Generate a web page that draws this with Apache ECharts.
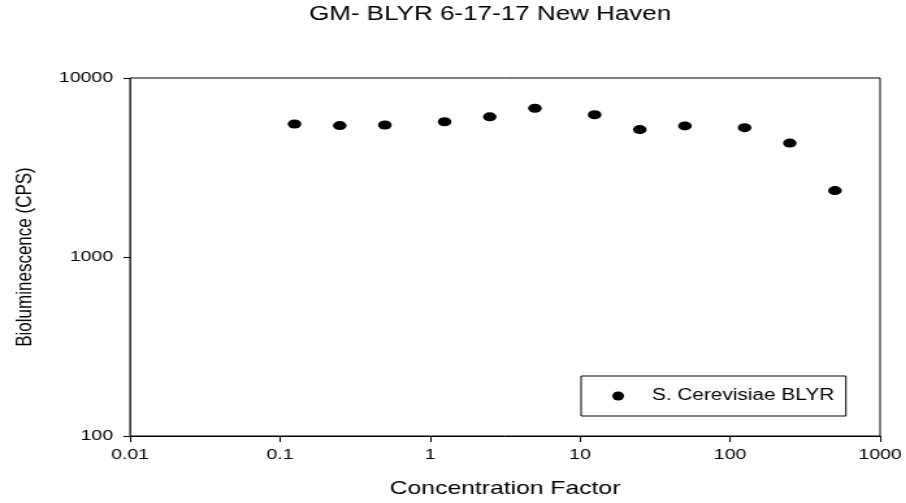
<!DOCTYPE html>
<html>
<head>
<meta charset="utf-8">
<script src="https://cdn.jsdelivr.net/npm/echarts@6/dist/echarts.min.js"></script>
<style>
html,body{margin:0;padding:0;background:#fff;overflow:hidden;}
#c{width:697px;height:503px;transform:scaleX(1.3);transform-origin:0 0;}
</style>
</head>
<body>
<div id="c"></div>
<script>
// Data
const titleText = 'GM- BLYR 6-17-17 New Haven';
const seriesName = 'S. Cerevisiae BLYR';
const xAxisName = 'Concentration Factor';
const yAxisName = 'Bioluminescence (CPS)';
const concentration = [0.125, 0.25, 0.5, 1.25, 2.5, 5, 12.5, 25, 50, 125, 250, 500];
const biolum = [5530, 5420, 5460, 5700, 6070, 6780, 6230, 5150, 5400, 5280, 4330, 2350];
const xTicks = [0.01, 0.1, 1, 10, 100, 1000];
const yTicks = [100, 1000, 10000];

const points = concentration.map((x, i) => [x, biolum[i]]);
const fmt = v => String(Number(Number(v).toPrecision(6)));
const font = '"Liberation Sans", Arial, sans-serif';

const chart = echarts.init(document.getElementById('c'), null, {renderer: 'canvas'});
chart.setOption({
  animation: false,
  backgroundColor: '#fff',
  title: {
    text: titleText,
    left: 372,
    textAlign: 'center',
    top: -1,
    textStyle: {fontFamily: font, fontSize: 20, fontWeight: 'normal', color: '#000'}
  },
  legend: {
    data: [{name: seriesName, icon: 'circle'}],
    left: 447,
    top: 376,
    orient: 'horizontal',
    itemWidth: 10,
    itemHeight: 9,
    padding: [12, 9, 12, 24],
    borderColor: '#000',
    borderWidth: 1,
    borderRadius: 0,
    backgroundColor: '#fff',
    itemStyle: {color: '#000', opacity: 1},
    textStyle: {fontFamily: font, fontSize: 16, color: '#000', padding: [0, 0, 0, 16]}
  },
  grid: {
    left: 100, right: 20, top: 78, bottom: 62,
    show: true, borderColor: '#000', borderWidth: 1, backgroundColor: 'transparent'
  },
  xAxis: {
    type: 'log', logBase: 10, min: xTicks[0], max: xTicks[xTicks.length - 1],
    name: xAxisName, nameLocation: 'middle', nameGap: 43,
    nameTextStyle: {fontFamily: font, fontSize: 19, color: '#000'},
    axisLine: {show: true, lineStyle: {color: '#000', width: 1}},
    axisTick: {show: true, inside: false, length: 6, lineStyle: {color: '#000'}},
    minorTick: {show: false},
    splitLine: {show: false},
    axisLabel: {margin: 11, fontFamily: font, fontSize: 15, color: '#000', formatter: fmt}
  },
  yAxis: {
    type: 'log', logBase: 10, min: yTicks[0], max: yTicks[yTicks.length - 1],
    name: yAxisName, nameLocation: 'middle', nameGap: 72,
    nameTextStyle: {fontFamily: font, fontSize: 17, color: '#000'},
    axisLine: {show: true, lineStyle: {color: '#333', width: 1}},
    axisTick: {show: true, inside: false, length: 5, lineStyle: {color: '#000'}},
    minorTick: {show: false},
    splitLine: {show: false},
    axisLabel: {margin: 13, fontFamily: font, fontSize: 15, color: '#000', formatter: fmt}
  },
  series: [{
    name: seriesName,
    type: 'scatter',
    symbol: 'circle',
    symbolSize: [10.5, 9],
    itemStyle: {color: '#000', opacity: 1},
    data: points
  }]
});
</script>
</body>
</html>
